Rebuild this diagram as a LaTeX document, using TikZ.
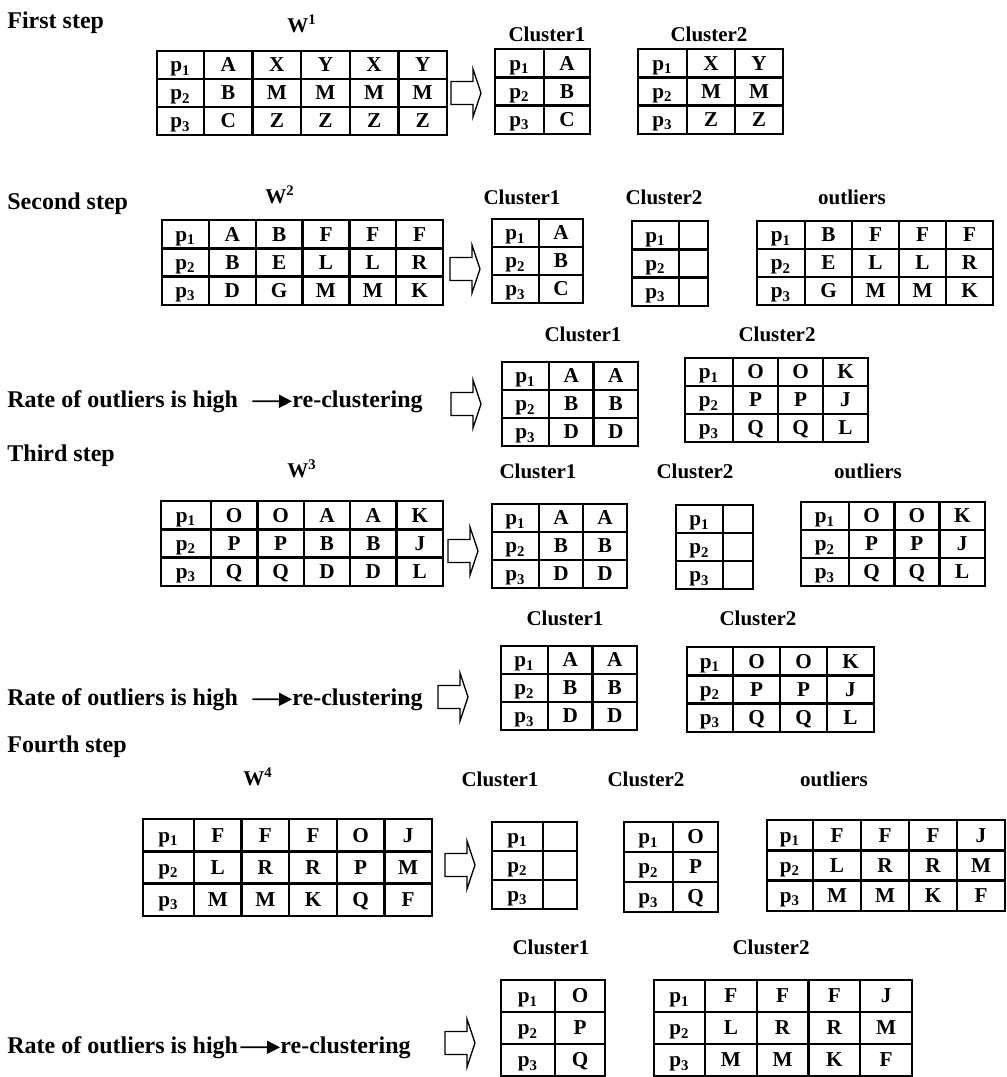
\documentclass[tikz,border=0pt]{standalone}
\usepackage{fontspec}
\setmainfont{Liberation Serif}
\usetikzlibrary{arrows.meta}

% name, x, y (top left), p width, column width, row height, columns, entries
\newcommand{\ptable}[8]{%
  \pgfmathsetmacro{\tw}{#4+#7*#5}
  \draw[tline] (#2,#3) rectangle ({#2+\tw},{#3+3*#6});
  \foreach \r in {1,2}{\draw[tline] (#2,{#3+\r*#6}) -- ({#2+\tw},{#3+\r*#6});}
  \foreach \c in {1,...,#7}{\draw[tline] ({#2+#4+(\c-1)*#5},#3) -- ++(0,{3*#6});}
  \foreach \r in {1,2,3}{\node[tcell] (#1-p\r) at ({#2+#4/2},{#3+(\r-0.5)*#6}) {p\textsubscript{\r}};}
  \if\relax\detokenize{#8}\relax\else
  \foreach \ca/\cb/\cc [count=\i] in {#8}{
    \node[tcell] (#1-\i-1) at ({#2+#4+(\i-0.5)*#5},{#3+0.5*#6}) {\ca};
    \node[tcell] (#1-\i-2) at ({#2+#4+(\i-0.5)*#5},{#3+1.5*#6}) {\cb};
    \node[tcell] (#1-\i-3) at ({#2+#4+(\i-0.5)*#5},{#3+2.5*#6}) {\cc};
  }\fi
}
% hollow block arrow, left end at (x,y)
\newcommand{\blockarr}[3]{%
  \coordinate (#1) at (#2,#3);
  \draw[blk] (#1) ++(0,-11.5) -- ++(22,0) -- ++(0,-12.5) -- ++(8,24) -- ++(-8,24) -- ++(0,-12.5) -- ++(-22,0) -- cycle;
}

\begin{document}
\begin{tikzpicture}[x=0.5pt, y=-0.5pt,
  every node/.style={font=\bfseries},
  steplbl/.style={anchor=base west, inner sep=0pt, font=\bfseries\fontsize{12}{14}\selectfont},
  clbl/.style={anchor=base, inner sep=0pt, font=\bfseries\fontsize{10.5}{12}\selectfont},
  tcell/.style={inner sep=0pt, text height=1.5ex, text depth=0pt, font=\bfseries\fontsize{10.6}{12}\selectfont},
  tline/.style={line width=1.2pt},
  blk/.style={line width=0.7pt, line join=miter},
  tarr/.style={-{Triangle[length=6.5pt,width=6.5pt]}, line width=0.8pt},
]
\useasboundingbox (0,0) rectangle (1007,1077);

% first step
\node[steplbl] (s1) at (7,28) {First step};
\node[clbl] (w1lbl) at (302,32) {W\textsuperscript{1}};
\node[clbl] (c11lbl) at (547,41) {Cluster1};
\node[clbl] (c12lbl) at (709,41) {Cluster2};
\ptable{w1}{157}{51}{47}{48.6}{28}{5}{A/B/C, X/M/Z, Y/M/Z, X/M/Z, Y/M/Z}
\blockarr{a1}{451}{93}
\ptable{c11}{495}{49}{49}{46}{28.3}{1}{A/B/C}
\ptable{c12}{638}{49}{49}{48}{28.3}{2}{X/M/Z, Y/M/Z}

% second step
\node[steplbl] (s2) at (7,209) {Second step};
\node[clbl] (w2lbl) at (280,203) {W\textsuperscript{2}};
\node[clbl] (c21lbl) at (522,204) {Cluster1};
\node[clbl] (c22lbl) at (664,204) {Cluster2};
\node[clbl] (o2lbl) at (852,204) {outliers};
\ptable{w2}{162}{220}{47}{46.8}{28.3}{5}{A/B/D, B/E/G, F/L/M, F/L/M, F/R/K}
\blockarr{a2}{450}{269}
\ptable{c21}{492}{219}{47}{44}{28}{1}{A/B/C}
\ptable{c22}{632}{221}{47}{29}{28.3}{1}{}
\ptable{o2}{757}{221}{48}{47}{28}{4}{B/E/G, F/L/M, F/L/M, F/R/K}

\node[steplbl] (rate2) at (7,407) {Rate of outliers is high};
\node[steplbl] (recl2) at (292,407) {re-clustering};
\draw[tarr, shorten <=7pt] (rate2.east) -- (recl2.west);
\blockarr{b2}{451}{404}
\node[clbl] (r21lbl) at (583,341) {Cluster1};
\node[clbl] (r22lbl) at (777,341) {Cluster2};
\ptable{r21}{502}{362}{47}{44.5}{28}{2}{A/B/D, A/B/D}
\ptable{r22}{685}{358}{48}{45}{28}{3}{O/P/Q, O/P/Q, K/J/L}

% third step
\node[steplbl] (s3) at (7,461) {Third step};
\node[clbl] (w3lbl) at (302,477) {W\textsuperscript{3}};
\node[clbl] (c31lbl) at (538,478) {Cluster1};
\node[clbl] (c32lbl) at (695,478) {Cluster2};
\node[clbl] (o3lbl) at (868,478) {outliers};
\ptable{w3}{161}{501}{50}{46.4}{28.3}{5}{O/P/Q, O/P/Q, A/B/D, A/B/D, K/J/L}
\blockarr{a3}{448}{551}
\ptable{c31}{492}{504}{47}{44}{28}{2}{A/B/D, A/B/D}
\ptable{c32}{676}{505}{47}{30}{28}{1}{}
\ptable{o3}{801}{502}{48}{45.3}{28}{3}{O/P/Q, O/P/Q, K/J/L}

\node[steplbl] (rate3) at (7,705) {Rate of outliers is high};
\node[steplbl] (recl3) at (292,705) {re-clustering};
\draw[tarr, shorten <=7pt] (rate3.east) -- (recl3.west);
\blockarr{b3}{438}{697}
\node[clbl] (r31lbl) at (565,625) {Cluster1};
\node[clbl] (r32lbl) at (758,625) {Cluster2};
\ptable{r31}{501}{646}{47}{44.5}{28}{2}{A/B/D, A/B/D}
\ptable{r32}{687}{647}{46}{47}{28.3}{3}{O/P/Q, O/P/Q, K/J/L}

% fourth step
\node[steplbl] (s4) at (7,752) {Fourth step};
\node[clbl] (w4lbl) at (258,785) {W\textsuperscript{4}};
\node[clbl] (c41lbl) at (500,786) {Cluster1};
\node[clbl] (c42lbl) at (646,786) {Cluster2};
\node[clbl] (o4lbl) at (834,786) {outliers};
\ptable{w4}{143}{819}{51}{47.6}{32.3}{5}{F/L/M, F/R/M, F/R/K, O/P/Q, J/M/F}
\blockarr{a4}{445}{865}
\ptable{c41}{492}{822}{51}{34}{29}{1}{}
\ptable{c42}{624}{822}{49}{45}{30}{1}{O/P/Q}
\ptable{o4}{767}{820}{46}{48}{30.3}{4}{F/L/M, F/R/M, F/R/K, J/M/F}

\node[steplbl] (rate4) at (7,1053) {Rate of outliers is high};
\node[steplbl] (recl4) at (280,1053) {re-clustering};
\draw[tarr, shorten <=1pt] (rate4.east) -- (recl4.west);
\blockarr{b4}{445}{1043}
\node[clbl] (r41lbl) at (551,954) {Cluster1};
\node[clbl] (r42lbl) at (771,954) {Cluster2};
\ptable{r41}{501}{980}{54}{50}{32}{1}{O/P/Q}
\ptable{r42}{654}{980}{51}{51.75}{32}{4}{F/L/M, F/R/M, F/R/K, J/M/F}

\end{tikzpicture}
\end{document}
